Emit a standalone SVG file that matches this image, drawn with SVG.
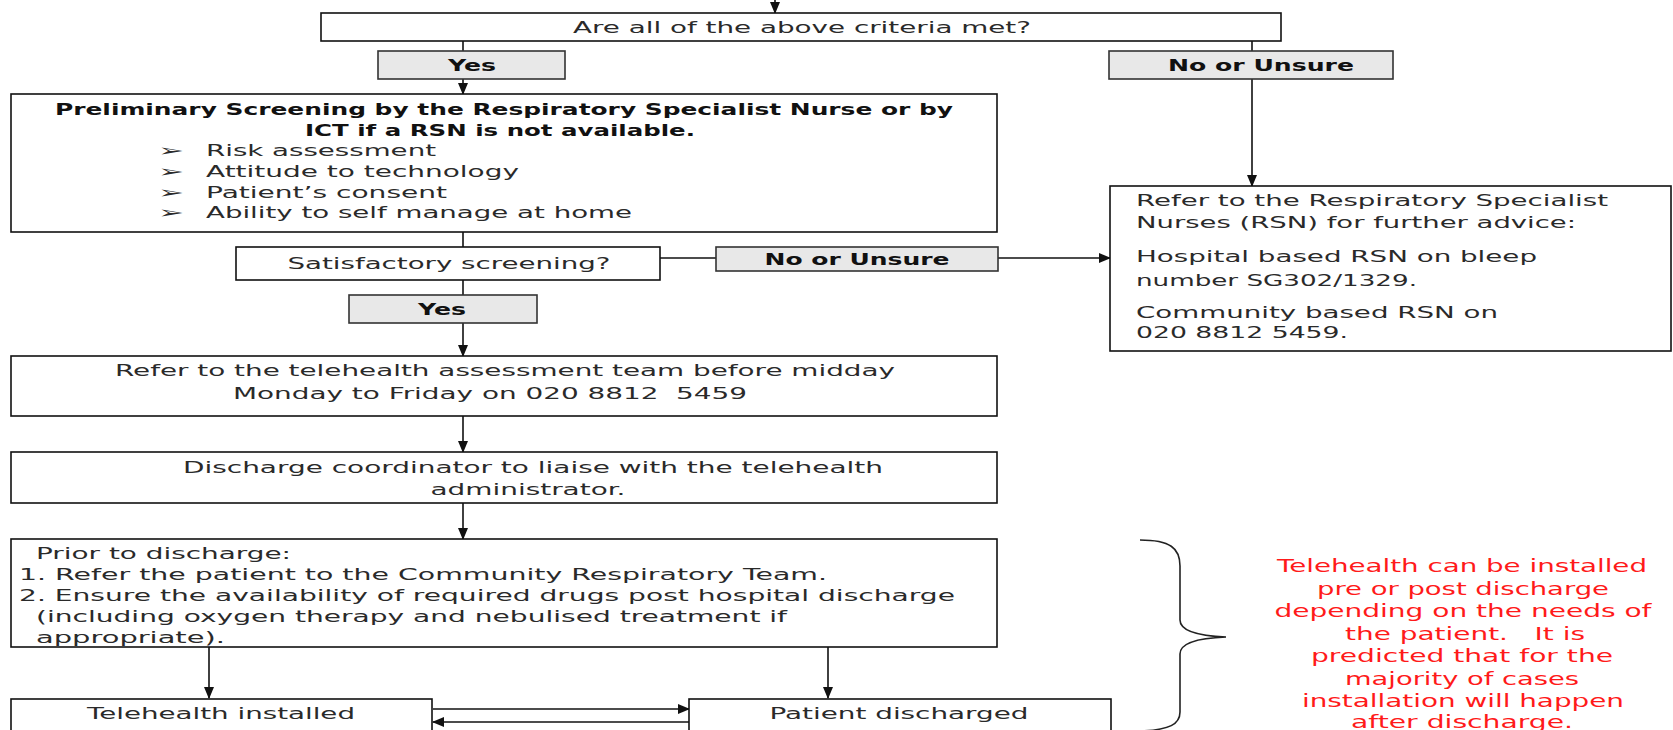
<svg xmlns="http://www.w3.org/2000/svg" width="1673" height="730" viewBox="0 0 1673 730">
<defs>
<style>
.box{fill:#fff;stroke:#111;stroke-width:1.6}
.lbl{fill:#e8e8e8;stroke:#333;stroke-width:1.6}
.t{font-family:"DejaVu Sans","Liberation Sans",sans-serif;font-size:16.5px;fill:#2a2a2a;white-space:pre}
.b{font-family:"DejaVu Sans","Liberation Sans",sans-serif;font-size:16.5px;font-weight:bold;fill:#111}
.r{font-family:"DejaVu Sans","Liberation Sans",sans-serif;font-size:17px;fill:#ff1a1a;white-space:pre}
.bul{font-family:"DejaVu Sans","Liberation Sans",sans-serif;font-size:16px;fill:#2a2a2a}
.c{text-anchor:middle}
.ln{stroke:#111;stroke-width:1.6;fill:none}
</style>
<marker id="ah" markerWidth="12" markerHeight="10" refX="11" refY="5" orient="auto" markerUnits="userSpaceOnUse">
<path d="M0,0 L12,5 L0,10 Z" fill="#111"/>
</marker>
</defs>
<g id="connectors">
<line class="ln" x1="775" y1="0" x2="775" y2="13" marker-end="url(#ah)"/>
<line class="ln" x1="463" y1="41" x2="463" y2="51"/>
<line class="ln" x1="1252" y1="41" x2="1252" y2="51"/>
<line class="ln" x1="463" y1="79" x2="463" y2="94" marker-end="url(#ah)"/>
<line class="ln" x1="1252" y1="79" x2="1252" y2="186" marker-end="url(#ah)"/>
<line class="ln" x1="463" y1="232" x2="463" y2="247"/>
<line class="ln" x1="463" y1="280" x2="463" y2="295"/>
<line class="ln" x1="463" y1="323" x2="463" y2="356" marker-end="url(#ah)"/>
<line class="ln" x1="660" y1="258" x2="716" y2="258"/>
<line class="ln" x1="998" y1="258" x2="1110" y2="258" marker-end="url(#ah)"/>
<line class="ln" x1="463" y1="416" x2="463" y2="452" marker-end="url(#ah)"/>
<line class="ln" x1="463" y1="503" x2="463" y2="539" marker-end="url(#ah)"/>
<line class="ln" x1="209" y1="647" x2="209" y2="698" marker-end="url(#ah)"/>
<line class="ln" x1="828" y1="647" x2="828" y2="698" marker-end="url(#ah)"/>
<line class="ln" x1="433" y1="709" x2="689" y2="709" marker-end="url(#ah)"/>
<line class="ln" x1="689" y1="722" x2="433" y2="722" marker-end="url(#ah)"/>
</g>
<g id="q1">
<rect class="box" x="321" y="13" width="960" height="28"/>
<text class="t c" x="802" y="33" textLength="458" lengthAdjust="spacingAndGlyphs">Are all of the above criteria met?</text>
</g>
<g id="yes1">
<rect class="lbl" x="378" y="51" width="187" height="28"/>
<text class="b c" x="472" y="71" textLength="48" lengthAdjust="spacingAndGlyphs">Yes</text>
</g>
<g id="no1">
<rect class="lbl" x="1109" y="51" width="284" height="28"/>
<text class="b c" x="1261" y="71" textLength="186" lengthAdjust="spacingAndGlyphs">No or Unsure</text>
</g>
<g id="prelim">
<rect class="box" x="11" y="94" width="986" height="138"/>
<text class="b c" x="504" y="115" textLength="898" lengthAdjust="spacingAndGlyphs">Preliminary Screening by the Respiratory Specialist Nurse or by</text>
<text class="b c" x="500" y="136" textLength="390" lengthAdjust="spacingAndGlyphs">ICT if a RSN is not available.</text>
<text class="bul" x="158" y="156" textLength="26" lengthAdjust="spacingAndGlyphs">➢</text>
<text class="t" x="206" y="156" textLength="230" lengthAdjust="spacingAndGlyphs">Risk assessment</text>
<text class="bul" x="158" y="177" textLength="26" lengthAdjust="spacingAndGlyphs">➢</text>
<text class="t" x="206" y="177" textLength="313" lengthAdjust="spacingAndGlyphs">Attitude to technology</text>
<text class="bul" x="158" y="198" textLength="26" lengthAdjust="spacingAndGlyphs">➢</text>
<text class="t" x="206" y="198" textLength="241" lengthAdjust="spacingAndGlyphs">Patient’s consent</text>
<text class="bul" x="158" y="218" textLength="26" lengthAdjust="spacingAndGlyphs">➢</text>
<text class="t" x="206" y="218" textLength="426" lengthAdjust="spacingAndGlyphs">Ability to self manage at home</text>
</g>
<g id="satisf">
<rect class="box" x="236" y="247" width="424" height="33"/>
<text class="t c" x="449" y="269" textLength="323" lengthAdjust="spacingAndGlyphs">Satisfactory screening?</text>
</g>
<g id="no2">
<rect class="lbl" x="716" y="247" width="282" height="24"/>
<text class="b c" x="857" y="265" textLength="185" lengthAdjust="spacingAndGlyphs">No or Unsure</text>
</g>
<g id="yes2">
<rect class="lbl" x="349" y="295" width="188" height="28"/>
<text class="b c" x="442" y="315" textLength="48" lengthAdjust="spacingAndGlyphs">Yes</text>
</g>
<g id="rsn">
<rect class="box" x="1110" y="186" width="561" height="165"/>
<text class="t" x="1136" y="206" textLength="472" lengthAdjust="spacingAndGlyphs">Refer to the Respiratory Specialist</text>
<text class="t" x="1136" y="228" textLength="440" lengthAdjust="spacingAndGlyphs">Nurses (RSN) for further advice:</text>
<text class="t" x="1136" y="262" textLength="401" lengthAdjust="spacingAndGlyphs">Hospital based RSN on bleep</text>
<text class="t" x="1136" y="286" textLength="281" lengthAdjust="spacingAndGlyphs">number SG302/1329.</text>
<text class="t" x="1136" y="318" textLength="362" lengthAdjust="spacingAndGlyphs">Community based RSN on</text>
<text class="t" x="1136" y="338" textLength="212" lengthAdjust="spacingAndGlyphs">020 8812 5459.</text>
</g>
<g id="refer">
<rect class="box" x="11" y="356" width="986" height="60"/>
<text class="t c" x="505" y="376" textLength="780" lengthAdjust="spacingAndGlyphs">Refer to the telehealth assessment team before midday</text>
<text class="t c" x="490" y="399" textLength="514" lengthAdjust="spacingAndGlyphs">Monday to Friday on 020 8812  5459</text>
</g>
<g id="coord">
<rect class="box" x="11" y="452" width="986" height="51"/>
<text class="t c" x="533" y="473" textLength="700" lengthAdjust="spacingAndGlyphs">Discharge coordinator to liaise with the telehealth</text>
<text class="t c" x="528" y="495" textLength="195" lengthAdjust="spacingAndGlyphs">administrator.</text>
</g>
<g id="prior">
<rect class="box" x="11" y="539" width="986" height="108"/>
<text class="t" x="36" y="559" textLength="255" lengthAdjust="spacingAndGlyphs">Prior to discharge:</text>
<text class="t" x="19" y="580" textLength="808" lengthAdjust="spacingAndGlyphs">1. Refer the patient to the Community Respiratory Team.</text>
<text class="t" x="19" y="601" textLength="936" lengthAdjust="spacingAndGlyphs">2. Ensure the availability of required drugs post hospital discharge</text>
<text class="t" x="36" y="622" textLength="751" lengthAdjust="spacingAndGlyphs">(including oxygen therapy and nebulised treatment if</text>
<text class="t" x="36" y="643" textLength="189" lengthAdjust="spacingAndGlyphs">appropriate).</text>
</g>
<g id="installed">
<rect class="box" x="11" y="699" width="421" height="40"/>
<text class="t c" x="221" y="719" textLength="268" lengthAdjust="spacingAndGlyphs">Telehealth installed</text>
</g>
<g id="discharged">
<rect class="box" x="689" y="699" width="422" height="40"/>
<text class="t c" x="899" y="719" textLength="259" lengthAdjust="spacingAndGlyphs">Patient discharged</text>
</g>
<g id="note">
<path d="M1140,540 C1170,540 1180,548 1180,566 L1180,620 C1180,632 1200,636 1226,637 C1200,638 1180,642 1180,654 L1180,712 C1180,724 1170,730 1140,731" fill="none" stroke="#222" stroke-width="1.6"/>
<text class="r c" x="1462" y="572" textLength="370" lengthAdjust="spacingAndGlyphs">Telehealth can be installed</text>
<text class="r c" x="1463" y="595" textLength="292" lengthAdjust="spacingAndGlyphs">pre or post discharge</text>
<text class="r c" x="1463" y="617" textLength="377" lengthAdjust="spacingAndGlyphs">depending on the needs of</text>
<text class="r c" x="1465" y="640" textLength="240" lengthAdjust="spacingAndGlyphs">the patient.   It is</text>
<text class="r c" x="1462" y="662" textLength="302" lengthAdjust="spacingAndGlyphs">predicted that for the</text>
<text class="r c" x="1462" y="685" textLength="234" lengthAdjust="spacingAndGlyphs">majority of cases</text>
<text class="r c" x="1463" y="707" textLength="322" lengthAdjust="spacingAndGlyphs">installation will happen</text>
<text class="r c" x="1462" y="728" textLength="222" lengthAdjust="spacingAndGlyphs">after discharge.</text>
</g>
</svg>
